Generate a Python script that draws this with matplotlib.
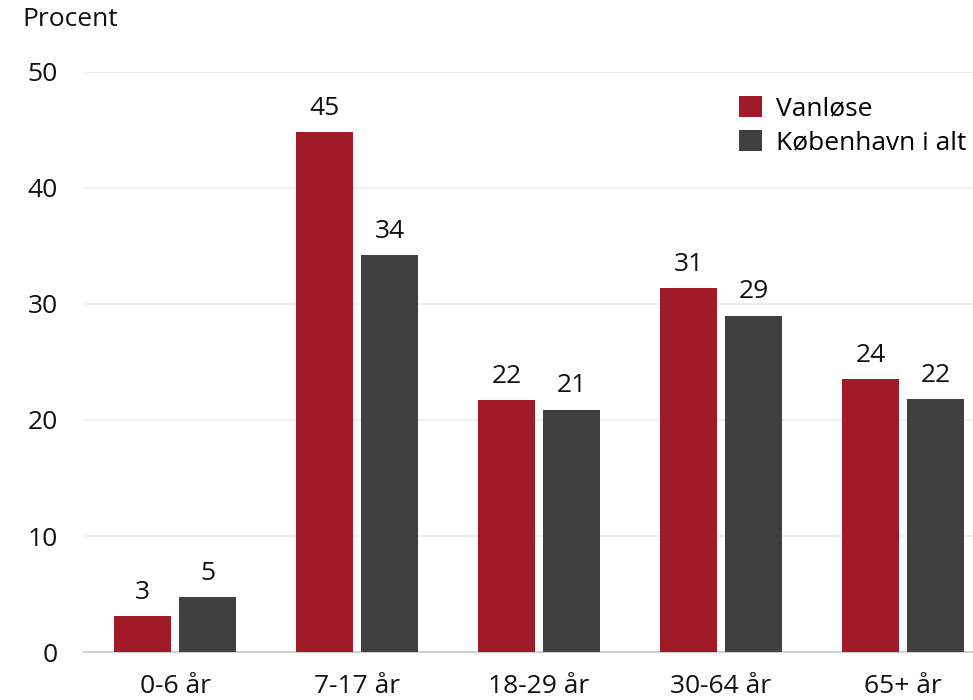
import numpy as np
import matplotlib.pyplot as plt

plt.rcParams['font.family'] = ['Open Sans', 'DejaVu Sans']

categories = ['0-6 år', '7-17 år', '18-29 år', '30-64 år', '65+ år']
vanloese = [3.1, 44.8, 21.7, 31.4, 23.5]
kbh = [4.7, 34.2, 20.9, 29.0, 21.8]
series_names = ['Vanløse', 'København i alt']

red = '#A01A28'
grey = '#404040'
fs = 19

fig = plt.figure(figsize=(9.73, 7.0), dpi=100)
ax = fig.add_axes([84 / 973, 1 - 652 / 700, 910 / 973, 580 / 700])

x = np.arange(len(categories))
w = 0.31
off = 0.178
b1 = ax.bar(x - off, vanloese, w, color=red, label=series_names[0], zorder=3)
b2 = ax.bar(x + off, kbh, w, color=grey, label=series_names[1], zorder=3)

# value labels above each bar
for bars, vals in ((b1, vanloese), (b2, kbh)):
    for rect, v in zip(bars, vals):
        ax.annotate(f'{v:.0f}', (rect.get_x() + rect.get_width() / 2, v),
                    xytext=(0, 8), textcoords='offset points',
                    ha='center', va='bottom', fontsize=fs, color='#111111')

ax.set_xlim(-0.5, 4.5)
ax.set_ylim(0, 50)
ax.set_yticks(range(0, 51, 10))
ax.set_xticks(x)
ax.set_xticklabels(categories)
ax.tick_params(axis='both', length=0, labelsize=fs, colors='#111111')
ax.tick_params(axis='x', pad=16)
ax.tick_params(axis='y', pad=19)

ax.grid(axis='y', color='#EBEBEB', linewidth=1.2, zorder=0)
for s in ['top', 'right', 'left']:
    ax.spines[s].set_visible(False)
ax.spines['bottom'].set_color('#D0D0D0')
ax.spines['bottom'].set_linewidth(1.5)

fig.text(22 / 973, 1 - 19 / 700, 'Procent', fontsize=fs, va='center', ha='left', color='#111111')

ax.legend(loc='upper left', bbox_to_anchor=(739 / 973, 1 - 96 / 700),
          bbox_transform=fig.transFigure, frameon=False, fontsize=fs,
          handlelength=0.87, handleheight=0.87, handletextpad=0.55,
          labelspacing=0.3, borderpad=0, borderaxespad=0)

fig.savefig('out.png', dpi=100)
